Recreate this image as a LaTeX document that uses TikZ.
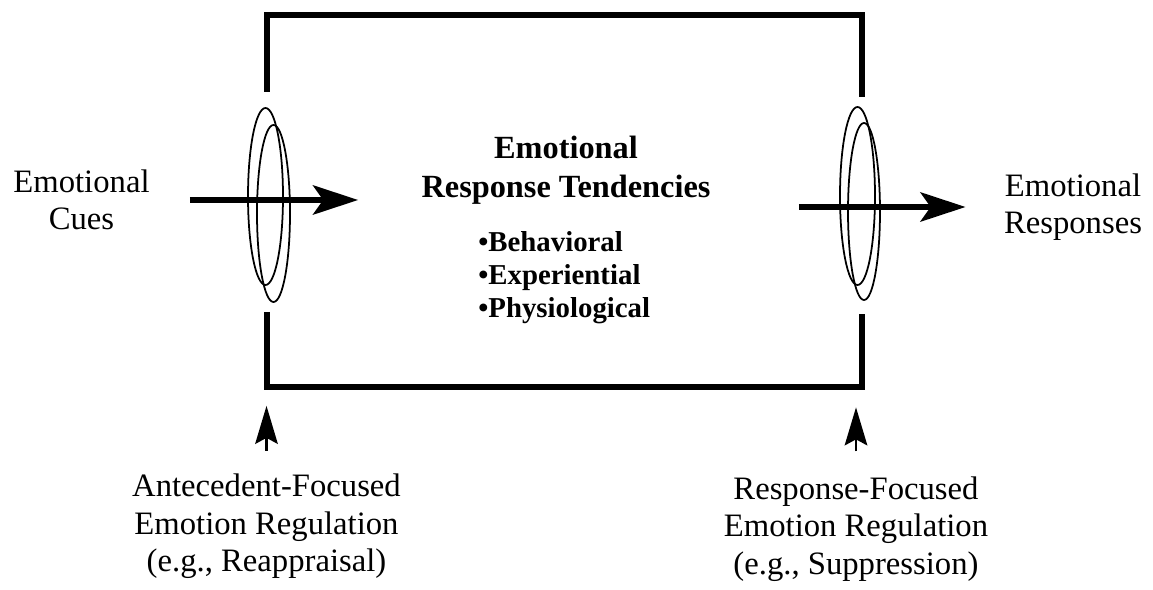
\documentclass[tikz,border=0pt]{standalone}
\usepackage{fontspec}
\setmainfont{Liberation Serif}
\usetikzlibrary{arrows.meta}

\begin{document}
\begin{tikzpicture}[x=0.02cm, y=-0.02cm,
    txt/.style={inner sep=0pt, align=center, font=\fontsize{18.6}{21.3}\selectfont},
    boxline/.style={line width=3.6pt, line join=miter},
    flow/.style={line width=3.8pt, -{Stealth[length=0.9cm, width=0.58cm, inset=0.2cm]}},
    push/.style={line width=1.6pt, -{Stealth[length=0.76cm, width=0.45cm, inset=0.12cm]}},
    ring/.style={line width=1pt}]
    \useasboundingbox (0,0) rectangle (1153,590);

    % Box with gaps
    \draw[boxline] (267,92) -- (267,15) -- (862,15) -- (862,97);
    \draw[boxline] (267,312) -- (267,387) -- (862,387) -- (862,314);

    % Labels
    \node[txt] (cues) at (81.5,200) {Emotional\\Cues};
    \node[txt] (responses) at (1073,207) {Emotional\\Responses};
    \node[txt, font=\bfseries\fontsize{18.4}{22.1}\selectfont] (tendencies) at (566,170) {Emotional\\Response Tendencies};
    \node[txt, align=left, anchor=west, font=\bfseries\fontsize{16.4}{18.7}\selectfont] (facets) at (478,278) {•Behavioral\\•Experiential\\•Physiological};
    \node[txt] (antecedent) at (266.5,526.5) {Antecedent-Focused\\Emotion Regulation\\(e.g., Reappraisal)};
    \node[txt] (suppress) at (856,529) {Response-Focused\\Emotion Regulation\\(e.g., Suppression)};

    % Flow arrows
    \draw[flow, shorten <=0.8cm, shorten >=1.26cm] (cues.east) -- (cues.east -| tendencies.west);
    \draw[flow, shorten <=1.76cm, shorten >=0.76cm] (responses.west -| tendencies.east) -- (responses.west);

    % Regulation arrows
    \draw[push, shorten <=0.46cm] (antecedent.north) -- ++(0,-68);
    \draw[push, shorten <=0.5cm] (suppress.north) -- ++(0,-69);

    % Rings
    \draw[ring] (265.5,196.5) ellipse [x radius=17.5, y radius=88.5];
    \draw[ring] (273.5,213.5) ellipse [x radius=16.5, y radius=88.5];
    \draw[ring] (857.5,196) ellipse [x radius=17.5, y radius=89];
    \draw[ring] (864,211.5) ellipse [x radius=16, y radius=88.5];
\end{tikzpicture}
\end{document}
